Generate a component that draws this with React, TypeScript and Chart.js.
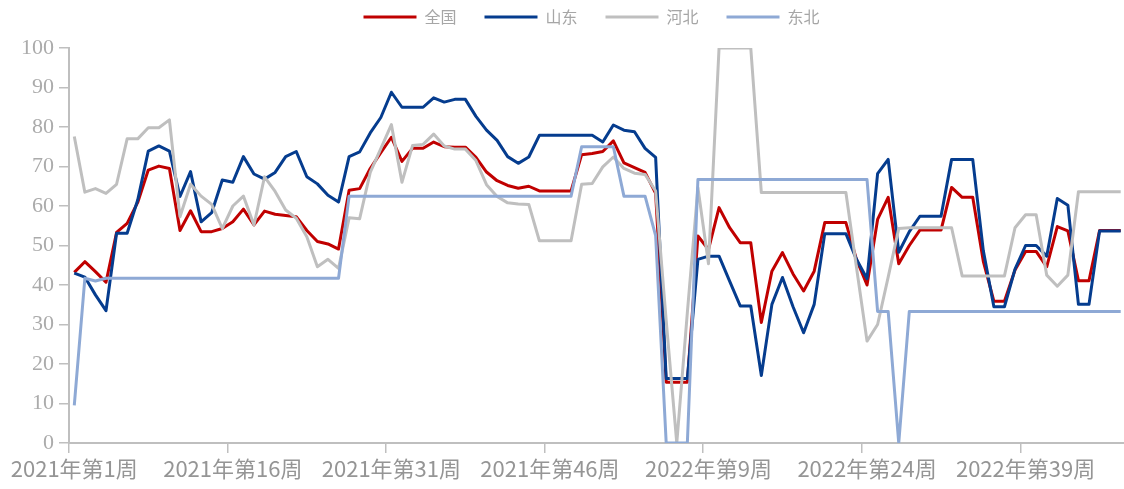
import React, { useEffect, useRef } from 'react';
import { Chart, registerables } from 'chart.js';

Chart.register(...registerables);

const weeks2021: string[] = Array.from({ length: 52 }, (_, i) => `2021年第${i + 1}周`);
const weeks2022: string[] = Array.from({ length: 48 }, (_, i) => `2022年第${i + 1}周`);
const categories: string[] = [...weeks2021, ...weeks2022];

const seriesNames = ['全国', '山东', '河北', '东北'];

const quanguo = [
  43.2, 45.9, 43.4, 40.7, 53.3, 55.6, 60.9, 69.1, 70.1, 69.5,
  53.8, 58.8, 53.5, 53.5, 54.3, 56.0, 59.2, 55.2, 58.7, 57.9,
  57.6, 57.3, 53.8, 51.0, 50.4, 49.1, 64.0, 64.4, 69.5, 73.5,
  77.4, 71.3, 74.6, 74.6, 76.2, 75.0, 74.9, 74.9, 72.3, 68.6,
  66.4, 65.2, 64.5, 65.0, 63.8, 63.8, 63.8, 63.8, 73.0, 73.3,
  73.8, 76.5, 70.9, 69.7, 68.5, 63.2, 15.4, 15.4, 15.4, 52.4,
  49.0, 59.6, 54.5, 50.7, 50.7, 30.5, 43.5, 48.2, 42.8, 38.5,
  43.5, 55.8, 55.8, 55.8, 46.5, 40.0, 56.6, 62.2, 45.4, 50.0,
  53.9, 53.9, 53.9, 64.7, 62.2, 62.2, 46.0, 35.9, 35.9, 43.8,
  48.5, 48.5, 44.6, 54.8, 53.7, 41.1, 41.1, 53.8, 53.8, 53.8,
];

const shandong = [
  43.0, 42.0, 37.5, 33.5, 53.1, 53.1, 61.5, 73.9, 75.2, 73.9,
  62.4, 68.7, 56.0, 58.3, 66.6, 66.0, 72.5, 68.1, 66.8, 68.5,
  72.5, 73.8, 67.4, 65.6, 62.7, 61.0, 72.5, 73.7, 78.5, 82.4,
  88.8, 85.0, 85.0, 85.0, 87.4, 86.3, 87.0, 87.0, 82.7, 79.2,
  76.6, 72.5, 70.8, 72.4, 77.9, 77.9, 77.9, 77.9, 77.9, 77.9,
  76.2, 80.5, 79.2, 78.8, 74.6, 72.3, 16.3, 16.3, 16.3, 46.5,
  47.3, 47.3, 41.0, 34.7, 34.7, 17.1, 35.1, 41.9, 34.5, 27.9,
  35.1, 53.0, 53.0, 53.0, 46.5, 41.6, 68.2, 71.8, 48.3, 53.5,
  57.4, 57.4, 57.4, 71.8, 71.8, 71.8, 48.7, 34.5, 34.5, 44.0,
  50.0, 50.0, 47.3, 61.9, 60.2, 35.1, 35.1, 53.7, 53.7, 53.7,
];

const hebei = [
  77.6, 63.5, 64.4, 63.2, 65.5, 77.0, 77.0, 79.8, 79.8, 81.8,
  57.3, 65.5, 62.5, 60.4, 54.3, 60.0, 62.5, 55.2, 67.4, 63.7,
  59.0, 56.9, 52.2, 44.6, 46.5, 44.2, 57.0, 56.8, 68.5, 74.5,
  80.6, 66.0, 75.3, 75.6, 78.2, 75.2, 74.4, 74.4, 71.5, 65.4,
  62.4, 60.8, 60.5, 60.4, 51.2, 51.2, 51.2, 51.2, 65.5, 65.7,
  69.9, 72.4, 69.5, 68.3, 68.0, 63.8, 31.0, 0, 33.0, 64.6,
  45.4, 100, 100, 100, 100, 63.4, 63.4, 63.4, 63.4, 63.4,
  63.4, 63.4, 63.4, 63.4, 44.5, 25.8, 30.0, 42.0, 54.3, 54.5,
  54.5, 54.5, 54.5, 54.5, 42.3, 42.3, 42.3, 42.3, 42.3, 54.5,
  57.8, 57.8, 42.5, 39.7, 42.5, 63.6, 63.6, 63.6, 63.6, 63.6,
];

const dongbei = [
  9.5, 41.7, 41.0, 41.7, 41.7, 41.7, 41.7, 41.7, 41.7, 41.7,
  41.7, 41.7, 41.7, 41.7, 41.7, 41.7, 41.7, 41.7, 41.7, 41.7,
  41.7, 41.7, 41.7, 41.7, 41.7, 41.7, 62.5, 62.5, 62.5, 62.5,
  62.5, 62.5, 62.5, 62.5, 62.5, 62.5, 62.5, 62.5, 62.5, 62.5,
  62.5, 62.5, 62.5, 62.5, 62.5, 62.5, 62.5, 62.5, 75.0, 75.0,
  75.0, 75.0, 62.5, 62.5, 62.5, 52.5, 0, 0, 0, 66.7,
  66.7, 66.7, 66.7, 66.7, 66.7, 66.7, 66.7, 66.7, 66.7, 66.7,
  66.7, 66.7, 66.7, 66.7, 66.7, 66.7, 33.3, 33.3, 0, 33.3,
  33.3, 33.3, 33.3, 33.3, 33.3, 33.3, 33.3, 33.3, 33.3, 33.3,
  33.3, 33.3, 33.3, 33.3, 33.3, 33.3, 33.3, 33.3, 33.3, 33.3,
];

const colors = ['#C00000', '#053C8E', '#BFBFBF', '#8EA9D5'];
const seriesValues = [quanguo, shandong, hebei, dongbei];

const yTicks = [0, 10, 20, 30, 40, 50, 60, 70, 80, 90, 100];
const labelEvery = 15;

const axisColor = '#BFBFBF';
const sansCJK = "'Noto Sans CJK SC', 'Noto Sans', sans-serif";

const legendShift = {
  id: 'legendShift',
  afterLayout(chart: any) {
    if (chart.legend) {
      chart.legend.left -= 6;
      chart.legend.right -= 6;
    }
  },
};

export default function App() {
  const ref = useRef<HTMLCanvasElement | null>(null);

  useEffect(() => {
    if (!ref.current) return;
    const datasets = seriesValues.map((vals, k) => ({
      label: seriesNames[k],
      data: vals,
      borderColor: colors[k],
      backgroundColor: colors[k],
      borderWidth: 3,
      pointRadius: 0,
      pointHoverRadius: 0,
      pointBorderWidth: 3,
      pointBorderColor: colors[k],
      pointBackgroundColor: colors[k],
      tension: 0,
      borderJoinStyle: 'round' as const,
      order: seriesValues.length - k,
    }));

    const chart = new Chart(ref.current, {
      type: 'line',
      data: { labels: categories, datasets },
      plugins: [legendShift],
      options: {
        responsive: false,
        animation: false,
        events: [],
        layout: { padding: { top: -19, left: 16, right: 0, bottom: 5.6 } },
        plugins: {
          legend: {
            position: 'top',
            fullSize: false,
            labels: {
              usePointStyle: true,
              pointStyle: 'line',
              pointStyleWidth: 53,
              padding: 28,
              color: '#A6A6A6',
              font: { family: sansCJK, size: 16 },
              sort: (a: any, b: any) => a.datasetIndex - b.datasetIndex,
            },
          },
          title: {
            display: true,
            text: '',
            position: 'top',
            fullSize: false,
            weight: 500,
            padding: 0,
            font: { size: 13, lineHeight: 1 },
          } as any,
          tooltip: { enabled: false },
        },
        scales: {
          x: {
            type: 'category',
            offset: true,
            grid: {
              display: true,
              drawOnChartArea: false,
              offset: true,
              tickLength: 10,
              lineWidth: 1.5,
              color: (ctx: any) =>
                typeof ctx.index === 'number' && ctx.index % labelEvery === 0 ? axisColor : 'rgba(0,0,0,0)',
            },
            border: { display: true, color: axisColor, width: 2 },
            ticks: {
              autoSkip: false,
              maxRotation: 0,
              minRotation: 0,
              padding: 2,
              color: '#959595',
              font: { family: sansCJK, size: 22 },
              callback: (_v: any, i: number) => (i % labelEvery === 0 ? categories[i] : ''),
            },
          },
          y: {
            min: 0,
            max: 100,
            afterBuildTicks: (scale: any) => {
              scale.ticks = yTicks.map((v) => ({ value: v }));
            },
            grid: {
              display: true,
              drawOnChartArea: false,
              tickLength: 10,
              lineWidth: 1.5,
              color: axisColor,
            },
            border: { display: true, color: axisColor, width: 2 },
            ticks: {
              padding: 5,
              color: '#ABABAB',
              font: { family: "'Liberation Serif', 'Times New Roman', serif", size: 22 },
            },
          },
        },
      },
    });
    return () => chart.destroy();
  }, []);

  return (
    <div
      style={{
        position: 'fixed',
        left: 0,
        top: 0,
        width: 1124,
        height: 489,
        overflow: 'hidden',
        background: '#ffffff',
      }}
    >
      <canvas ref={ref} width={1126} height={489} style={{ display: 'block' }} />
    </div>
  );
}
